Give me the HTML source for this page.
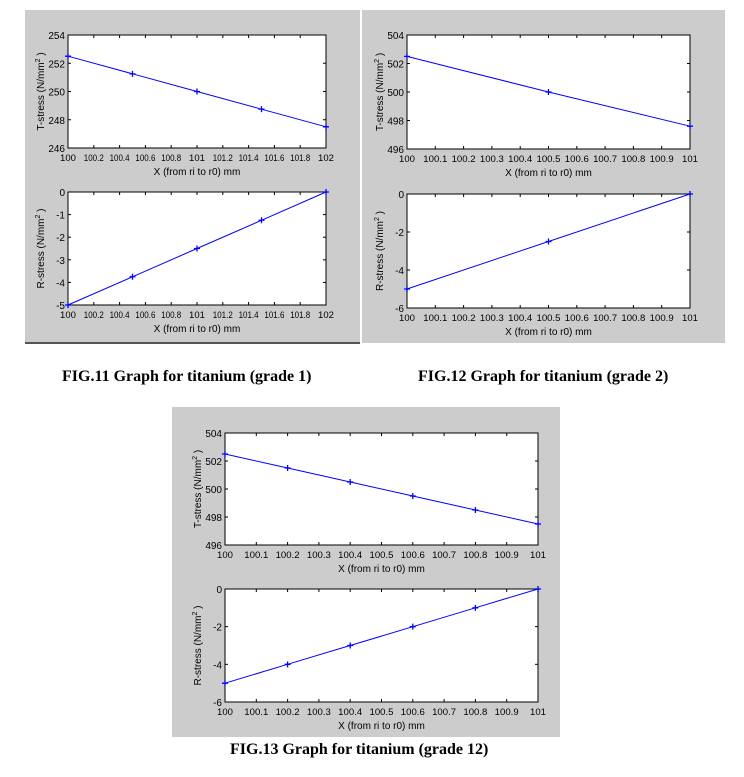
<!DOCTYPE html>
<html><head><meta charset="utf-8"><style>
html,body{margin:0;padding:0;background:#fff;width:744px;height:777px;overflow:hidden}
svg{position:absolute;left:0;top:0}
.cap{position:absolute;font:bold 16px "Liberation Serif",serif;color:#000;white-space:nowrap}
</style></head><body>
<svg id="s" width="744" height="777" xmlns="http://www.w3.org/2000/svg" font-family="Liberation Sans, sans-serif"></svg>
<div class="cap" style="left:62px;top:368px">FIG.11 Graph for titanium (grade 1)</div>
<div class="cap" style="left:418px;top:368px">FIG.12 Graph for titanium (grade 2)</div>
<div class="cap" style="left:230px;top:741px">FIG.13 Graph for titanium (grade 12)</div>
<script>
var S=document.getElementById('s'),h='';
function bg(x,y,w,hh,shadow){h+='<rect x="'+x+'" y="'+y+'" width="'+w+'" height="'+hh+'" fill="#cccccc"/>';if(shadow)h+='<rect x="'+x+'" y="'+(y+hh)+'" width="'+w+'" height="2" fill="#555"/>';}
function ax(x0,x1,y0,y1,xt,xl,yt,yl,ylab,pts,lw){
 var X=function(v){return x0+(v-xt[0])/(xt[xt.length-1]-xt[0])*(x1-x0)};
 var Y=function(v){return y1-(v-yt[0])/(yt[yt.length-1]-yt[0])*(y1-y0)};
 h+='<rect x="'+x0+'" y="'+y0+'" width="'+(x1-x0)+'" height="'+(y1-y0)+'" fill="#fff" stroke="#000" stroke-width="1"/>';
 xt.forEach(function(v,i){var x=X(v);h+='<line x1="'+x+'" y1="'+y1+'" x2="'+x+'" y2="'+(y1-3)+'" stroke="#000"/><line x1="'+x+'" y1="'+y0+'" x2="'+x+'" y2="'+(y0+3)+'" stroke="#000"/>';
  h+='<text x="'+x+'" y="'+(y1+13)+'" font-size="9.5" text-anchor="middle" textLength="'+(xl[i].length>3?lw:(xl[i].length*5.3))+'" lengthAdjust="spacingAndGlyphs">'+xl[i]+'</text>';});
 yt.forEach(function(v,i){var y=Y(v);h+='<line x1="'+x0+'" y1="'+y+'" x2="'+(x0+3)+'" y2="'+y+'" stroke="#000"/><line x1="'+x1+'" y1="'+y+'" x2="'+(x1-3)+'" y2="'+y+'" stroke="#000"/>';
  h+='<text x="'+(x0-3)+'" y="'+(y+4)+'" font-size="10" text-anchor="end">'+yl[i]+'</text>';});
 h+='<text x="'+((x0+x1)/2)+'" y="'+(y1+27)+'" font-size="10" text-anchor="middle">X (from ri to r0) mm</text>';
 var cy=(y0+y1)/2;
 h+='<text transform="translate('+(x0-24)+','+cy+') rotate(-90)" font-size="10" text-anchor="middle">'+ylab+' (N/mm<tspan font-size="7" dy="-4">2</tspan><tspan dy="4"> )</tspan></text>';
 var d='';pts.forEach(function(p,i){d+=(i?'L':'M')+X(p[0]).toFixed(1)+' '+Y(p[1]).toFixed(1)});
 h+='<path d="'+d+'" fill="none" stroke="#0000ff" stroke-width="1"/>';
 pts.forEach(function(p){var x=X(p[0]),y=Y(p[1]);h+='<path d="M'+(x-3)+' '+y+'h6M'+x+' '+(y-3)+'v6" stroke="#0000ff" stroke-width="1.3"/>';});
}
function rng(a,b,s){var r=[];for(var v=a;v<=b+1e-9;v+=s)r.push(Math.round(v*10)/10);return r}
function lab(a){return a.map(function(v){return String(v)})}
// FIG 11
bg(25,10,335,332,true);
var xt1=rng(100,102,0.2),xl1=lab(xt1);
ax(68,326,35,148,xt1,xl1,[246,248,250,252,254],['246','248','250','252','254'],'T-stress',[[100,252.5],[100.5,251.25],[101,250],[101.5,248.75],[102,247.5]],20);
ax(68,326,192,305,xt1,xl1,[-5,-4,-3,-2,-1,0],['-5','-4','-3','-2','-1','0'],'R-stress',[[100,-5],[100.5,-3.75],[101,-2.5],[101.5,-1.25],[102,0]],20);
// FIG 12
bg(362,10,363,333,false);
var xt2=rng(100,101,0.1),xl2=lab(xt2);
ax(407,690,35,149,xt2,xl2,[496,498,500,502,504],['496','498','500','502','504'],'T-stress',[[100,502.5],[100.5,500],[101,497.6]],24);
ax(407,690,194,308,xt2,xl2,[-6,-4,-2,0],['-6','-4','-2','0'],'R-stress',[[100,-5],[100.5,-2.5],[101,0]],24);
// FIG 13
bg(172,407,388,330,false);
ax(225,538,433,545,xt2,xl2,[496,498,500,502,504],['496','498','500','502','504'],'T-stress',[[100,502.5],[100.2,501.5],[100.4,500.5],[100.6,499.5],[100.8,498.5],[101,497.5]],24);
ax(225,538,589,702,xt2,xl2,[-6,-4,-2,0],['-6','-4','-2','0'],'R-stress',[[100,-5],[100.2,-4],[100.4,-3],[100.6,-2],[100.8,-1],[101,0]],24);
S.innerHTML=h;
</script>
</body></html>
